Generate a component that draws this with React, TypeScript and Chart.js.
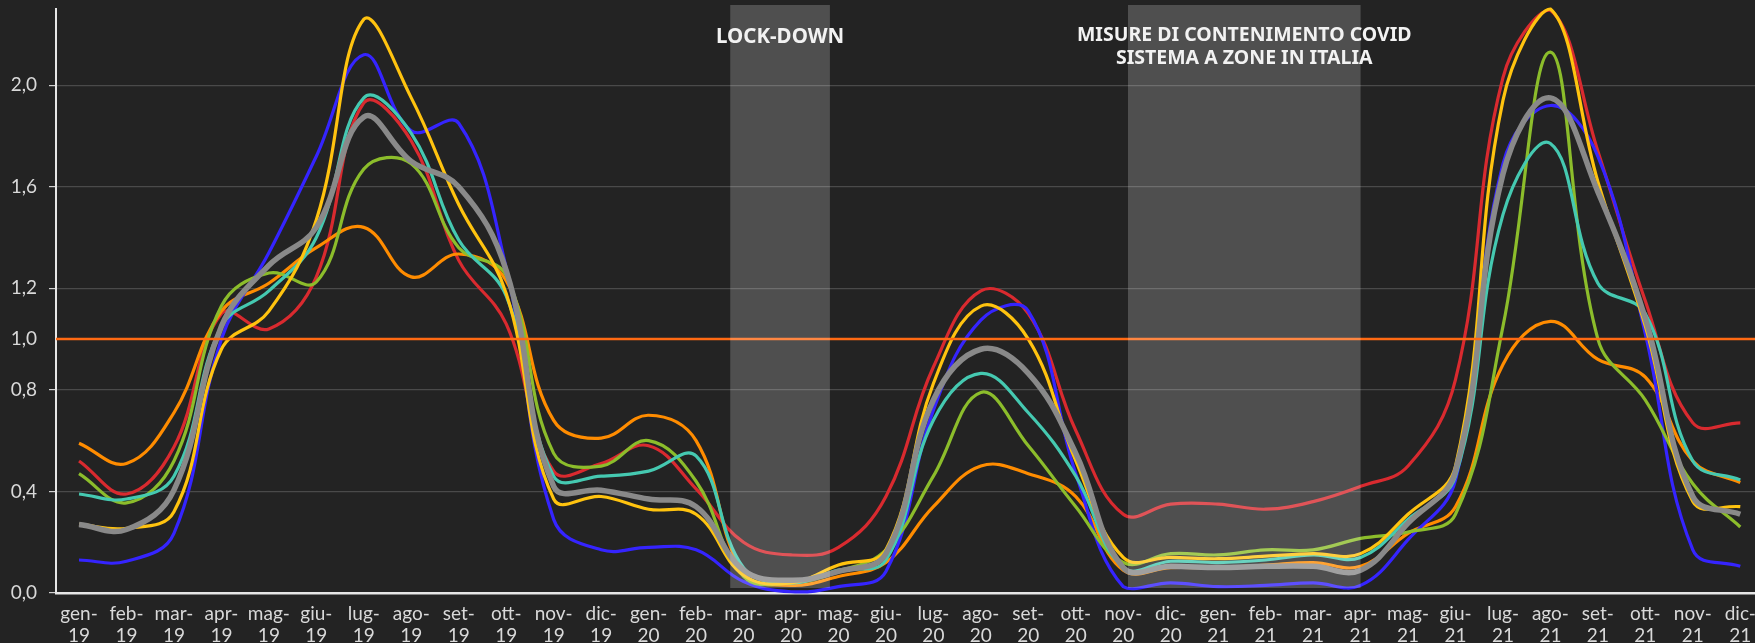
import React, { useEffect, useRef } from "react";
import { Chart, registerables } from "chart.js";

Chart.register(...registerables);

// ---- Data ----
const categories = [
  "gen-19", "feb-19", "mar-19", "apr-19", "mag-19", "giu-19", "lug-19", "ago-19", "set-19", "ott-19", "nov-19", "dic-19",
  "gen-20", "feb-20", "mar-20", "apr-20", "mag-20", "giu-20", "lug-20", "ago-20", "set-20", "ott-20", "nov-20", "dic-20",
  "gen-21", "feb-21", "mar-21", "apr-21", "mag-21", "giu-21", "lug-21", "ago-21", "set-21", "ott-21", "nov-21", "dic-21",
];

const seriesRed = [
  0.52, 0.39, 0.575, 1.10, 1.04, 1.245, 1.93, 1.78, 1.31, 1.06, 0.48, 0.51,
  0.58, 0.41, 0.20, 0.15, 0.18, 0.38, 0.89, 1.19, 1.10, 0.64, 0.31, 0.35,
  0.35, 0.33, 0.36, 0.42, 0.50, 0.84, 2.03, 2.295, 1.74, 1.15, 0.67, 0.67,
];
const seriesOrange = [
  0.59, 0.51, 0.71, 1.11, 1.22, 1.36, 1.44, 1.245, 1.335, 1.23, 0.68, 0.61,
  0.70, 0.60, 0.08, 0.03, 0.065, 0.12, 0.34, 0.50, 0.47, 0.38, 0.09, 0.10,
  0.10, 0.11, 0.12, 0.105, 0.235, 0.34, 0.90, 1.07, 0.92, 0.85, 0.52, 0.435,
];
const seriesYellow = [
  0.27, 0.255, 0.32, 0.96, 1.11, 1.47, 2.26, 1.95, 1.53, 1.18, 0.37, 0.38,
  0.33, 0.31, 0.07, 0.04, 0.11, 0.17, 0.825, 1.13, 1.00, 0.52, 0.14, 0.14,
  0.135, 0.145, 0.155, 0.155, 0.31, 0.50, 1.94, 2.30, 1.62, 1.05, 0.36, 0.34,
];
const seriesGray = [
  0.27, 0.25, 0.405, 1.05, 1.29, 1.44, 1.875, 1.70, 1.60, 1.27, 0.42, 0.405,
  0.37, 0.34, 0.09, 0.05, 0.085, 0.155, 0.76, 0.96, 0.865, 0.55, 0.10, 0.105,
  0.10, 0.105, 0.105, 0.09, 0.275, 0.48, 1.65, 1.95, 1.58, 1.08, 0.38, 0.31,
];
const seriesTeal = [
  0.39, 0.37, 0.46, 1.05, 1.19, 1.40, 1.95, 1.81, 1.39, 1.17, 0.46, 0.46,
  0.48, 0.54, 0.10, 0.04, 0.09, 0.13, 0.68, 0.865, 0.71, 0.46, 0.10, 0.125,
  0.12, 0.13, 0.15, 0.14, 0.29, 0.46, 1.49, 1.77, 1.22, 1.10, 0.52, 0.445,
];
const seriesGreen = [
  0.47, 0.355, 0.52, 1.13, 1.26, 1.225, 1.67, 1.69, 1.36, 1.25, 0.55, 0.50,
  0.60, 0.44, 0.065, 0.04, 0.085, 0.17, 0.46, 0.79, 0.58, 0.34, 0.12, 0.155,
  0.15, 0.17, 0.17, 0.215, 0.24, 0.31, 1.05, 2.13, 1.00, 0.76, 0.43, 0.26,
];
const seriesBlue = [
  0.13, 0.125, 0.235, 1.00, 1.34, 1.72, 2.12, 1.82, 1.85, 1.28, 0.29, 0.17,
  0.18, 0.17, 0.045, 0.005, 0.025, 0.085, 0.72, 1.075, 1.11, 0.47, 0.025, 0.04,
  0.025, 0.03, 0.04, 0.03, 0.21, 0.445, 1.69, 1.92, 1.72, 1.02, 0.17, 0.105,
];

const yTicks = [0, 0.4, 0.8, 1.0, 1.2, 1.6, 2.0];
const thresholdValue = 1.0;

// shaded periods, in category-index units
const periodStarts = [13.72, 22.1];
const periodEnds = [15.82, 27.0];
const periodLabels = [["LOCK-DOWN"], ["MISURE DI CONTENIMENTO COVID", "SISTEMA A ZONE IN ITALIA"]];
const periodLabelCenters = [14.77, 24.55];

// ---- Styles ----
const BG = "#232323";
const TEXT = "#d9d9d9";
const W = 1755;
const H = 643;

const overlayPlugin = {
  id: "overlay",
  beforeDraw(chart: any) {
    const { ctx, width, height } = chart;
    ctx.save();
    ctx.fillStyle = BG;
    ctx.fillRect(0, 0, width, height);
    ctx.restore();
  },
  afterDatasetsDraw(chart: any) {
    const { ctx, chartArea } = chart;
    const x = chart.scales.x;
    const y = chart.scales.y;
    ctx.save();
    // threshold line
    const py = y.getPixelForValue(thresholdValue);
    ctx.strokeStyle = "#ff6a13";
    ctx.lineWidth = 2.5;
    ctx.beginPath();
    ctx.moveTo(chartArea.left, py);
    ctx.lineTo(chartArea.right, py);
    ctx.stroke();
    // shaded periods
    ctx.fillStyle = "rgba(255,255,255,0.2)";
    const top = 5;
    const bottom = chartArea.bottom - 5;
    for (let i = 0; i < periodStarts.length; i++) {
      const x0 = x.getPixelForValue(periodStarts[i]);
      const x1 = x.getPixelForValue(periodEnds[i]);
      ctx.fillRect(x0, top, x1 - x0, bottom - top);
    }
    // labels
    ctx.fillStyle = "#f2f2f2";
    ctx.textAlign = "center";
    ctx.textBaseline = "middle";
    for (let i = 0; i < periodLabels.length; i++) {
      const cx = x.getPixelForValue(periodLabelCenters[i]);
      const lines = periodLabels[i];
      ctx.font = lines.length === 1 ? "bold 20.5px 'Noto Sans'" : "bold 19.5px 'Noto Sans'";
      const y0 = lines.length === 1 ? 37.5 : 35;
      lines.forEach((t, j) => ctx.fillText(t, cx, y0 + j * 23.5));
    }
    ctx.restore();
  },
};

export default function App() {
  const ref = useRef<HTMLCanvasElement>(null);

  useEffect(() => {
    document.body.style.margin = "0";
    document.body.style.background = BG;
    if (!ref.current) return;
    const mk = (label: string, data: number[], color: string, width: number) => ({
      label,
      data: data.map((v, i) => ({ x: i, y: v })),
      borderColor: color,
      backgroundColor: color,
      borderWidth: width,
      pointRadius: 0,
      tension: 0.4,
      fill: false,
      clip: false as any,
    });
    const chart = new Chart(ref.current, {
      type: "line",
      data: {
        datasets: [
          mk("Grigio", seriesGray, "#898989", 5.5),
          mk("Giallo", seriesYellow, "#ffc30f", 3.2),
          mk("Turchese", seriesTeal, "#45c9b1", 3.2),
          mk("Verde", seriesGreen, "#8cbd2b", 3.2),
          mk("Blu", seriesBlue, "#3524ff", 3.2),
          mk("Arancio", seriesOrange, "#ff8c00", 3.2),
          mk("Rosso", seriesRed, "#d92a2f", 3.2),
        ],
      },
      options: {
        responsive: false,
        animation: false,
        layout: { padding: { top: 9, left: 0, right: 0, bottom: 0 } },
        plugins: { legend: { display: false }, tooltip: { enabled: false } },
        scales: {
          x: {
            type: "linear",
            min: -0.485,
            max: 35.31,
            afterBuildTicks: (scale: any) => {
              scale.ticks = categories.map((_, i) => ({ value: i }));
            },
            afterFit: (scale: any) => {
              scale.height = 50;
              scale.paddingLeft = 0;
              scale.paddingRight = 0;
            },
            grid: { display: true, drawOnChartArea: false, drawTicks: false, color: "transparent" },
            border: { display: true, color: "#e6e6e6", width: 2.5 },
            ticks: {
              autoSkip: false,
              maxRotation: 0,
              minRotation: 0,
              padding: 9,
              color: TEXT,
              font: { family: "Lato", size: 19, lineHeight: 1.2 },
              callback: (v: any) => {
                const c = categories[Math.round(Number(v))];
                if (!c) return "";
                const [m, y] = c.split("-");
                return [m + "-", y];
              },
            },
          },
          y: {
            type: "linear",
            min: 0,
            max: 2.3,
            afterBuildTicks: (scale: any) => {
              scale.ticks = yTicks.map((v) => ({ value: v }));
            },
            afterFit: (scale: any) => {
              scale.width = 56;
              scale.paddingTop = 0;
              scale.paddingBottom = 0;
            },
            grid: {
              color: (c: any) => (c.tick && (c.tick.value === thresholdValue || c.tick.value === 0) ? "transparent" : "#4a4a4a"),
              tickColor: (c: any) => (c.tick && c.tick.value === thresholdValue ? "transparent" : "#d0d0d0"),
              tickLength: 7,
              lineWidth: 1.2,
            },
            border: { display: true, color: "#e6e6e6", width: 2 },
            ticks: {
              padding: 12,
              color: TEXT,
              font: { family: "Lato", size: 19 },
              callback: (v: any) => Number(v).toFixed(1).replace(".", ","),
            },
          },
        },
      },
      plugins: [overlayPlugin],
    });
    return () => chart.destroy();
  }, []);

  return (
    <div style={{ position: "absolute", left: 0, top: 0, width: W, height: H, background: BG }}>
      <canvas ref={ref} width={W} height={H} style={{ display: "block" }} />
    </div>
  );
}
